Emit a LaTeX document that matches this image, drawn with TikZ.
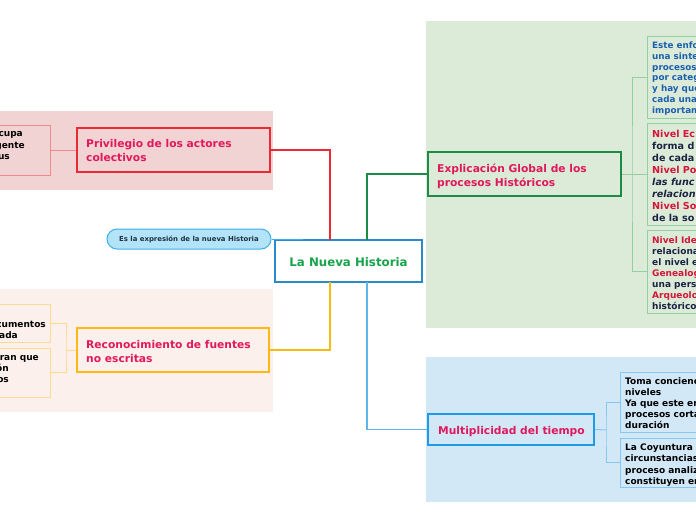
\documentclass[tikz,border=0pt]{standalone}
\usepackage{fontspec}
\setmainfont{DejaVu Sans}
\definecolor{bgpink}{HTML}{F2D3D3}
\definecolor{bgpeach}{HTML}{FCF0EC}
\definecolor{bggreen}{HTML}{DCEBD8}
\definecolor{bgblue}{HTML}{D2E8F7}
\definecolor{cred}{HTML}{EC2A33}
\definecolor{credl}{HTML}{F08A8A}
\definecolor{corange}{HTML}{FDB913}
\definecolor{corangel}{HTML}{FDDA8E}
\definecolor{cgreen}{HTML}{1D8A48}
\definecolor{cgreenl}{HTML}{93CFA4}
\definecolor{cblue}{HTML}{1F9BE6}
\definecolor{cbluel}{HTML}{86C7F0}
\definecolor{ccentral}{HTML}{2B8ACB}
\definecolor{pillfill}{HTML}{B3E3F8}
\definecolor{pillline}{HTML}{3DAEEA}
\definecolor{tpink}{HTML}{E0185C}
\definecolor{tgreen}{HTML}{17A34A}
\definecolor{tblue}{HTML}{1B5FAE}
\definecolor{tred}{HTML}{D3163A}
\definecolor{tdark}{HTML}{1A2342}
\definecolor{tpill}{HTML}{1C3340}
\newcommand{\mlines}[1]{\begin{tabular}[t]{@{}l@{}}#1\end{tabular}}
\begin{document}
\begin{tikzpicture}[x=1pt,y=-1pt,
  boxshape/.style={rectangle, inner sep=0pt},
  mainbox/.style={boxshape, line width=2pt},
  childbox/.style={boxshape, line width=1pt},
  maintxt/.style={inner sep=0pt, anchor=base west, text=tpink, font=\fontsize{10.7}{14}\selectfont\bfseries},
  smalltxt/.style={inner sep=0pt, anchor=base west, font=\fontsize{9}{11}\selectfont\bfseries},
  lefttxt/.style={inner sep=0pt, anchor=base east, text=black, font=\fontsize{9}{11}\selectfont\bfseries},
  mainline/.style={line width=1.3pt},
  childline/.style={line width=1pt}]
\useasboundingbox (0,0) rectangle (696,520);
\clip (0,0) rectangle (696,520);
% backgrounds
\fill[bgpink] (0,111) rectangle (273,190);
\fill[bgpeach] (0,289) rectangle (273,412);
\fill[bggreen] (426,21) rectangle (720,328);
\fill[bgblue] (426,357) rectangle (720,502);

% central
\node[mainbox, draw=ccentral, fill=white, minimum width=147pt, minimum height=42pt] (central) at (348.5,261) {};
\node[inner sep=0pt, anchor=base, text=tgreen, font=\fontsize{11.8}{14}\selectfont\bfseries] (centraltxt) at (348.5,266) {La Nueva Historia};
\coordinate (cTL) at (330,240);
\coordinate (cBL) at (330,282);
\coordinate (cTR) at (367,240);
\coordinate (cBR) at (367,282);

% pill
\node[boxshape, draw=pillline, fill=pillfill, line width=1pt, rounded corners=10pt, minimum width=164pt, minimum height=20pt, text=tpill, font=\fontsize{6.9}{8}\selectfont\bfseries] (pill) at (189,239) {Es la expresión de la nueva Historia};
\coordinate (pillEnd) at (303,239);
\draw[line width=1pt, pillline] (pill.east) -- (pillEnd);

% Privilegio
\node[mainbox, draw=cred, fill=bgpink, minimum width=193pt, minimum height=44pt] (priv) at (173.5,150) {};
\node[maintxt] (privtxt) at (86,147) {\mlines{Privilegio de los actores\\colectivos}};
\draw[mainline, cred] (priv.east) -| (cTL);
\node[childbox, draw=credl, fill=bgpink, minimum width=100pt, minimum height=50pt] (lc1) at (0,150) {};
\node[lefttxt] (lc1a) at (23,136) {cupa};
\node[lefttxt] (lc1b) at (25,148) {gente};
\node[lefttxt] (lc1c) at (10,159) {us};
\draw[childline, credl] (lc1.east) -- (lc1.east -| priv.west);

% Reconocimiento
\node[mainbox, draw=corange, fill=bgpeach, minimum width=192pt, minimum height=44pt] (recon) at (173,350) {};
\node[maintxt] (recontxt) at (86,348) {\mlines{Reconocimiento de fuentes\\no escritas}};
\draw[mainline, corange] (recon.east) -| (cBL);
\node[childbox, draw=corangel, fill=bgpeach, minimum width=100pt, minimum height=38pt] (lb1) at (0,323) {};
\node[childbox, draw=corangel, fill=bgpeach, minimum width=100pt, minimum height=49pt] (lb2) at (0,372.5) {};
\node[lefttxt] (lb1a) at (46,327) {cumentos};
\node[lefttxt] (lb1b) at (18,338) {ada};
\node[lefttxt] (lb2a) at (39,360) {ran que};
\node[lefttxt] (lb2b) at (9,371) {ón};
\node[lefttxt] (lb2c) at (9,382) {os};
\coordinate (lbk) at (66,350);
\draw[childline, corangel] (recon.west) -- (lbk);
\draw[childline, corangel] (lb1.east) -| (lbk) |- (lb2.east);

% Explicacion
\node[mainbox, draw=cgreen, fill=bggreen, minimum width=193pt, minimum height=44pt] (expl) at (524.5,174) {};
\node[maintxt] (expltxt) at (437,172) {\mlines{Explicación Global de los\\procesos Históricos}};
\draw[mainline, cgreen] (cTR) |- (expl.west);
\node[childbox, draw=cgreenl, fill=bggreen, minimum width=100pt, minimum height=82pt] (r1) at (697,77) {};
\node[childbox, draw=cgreenl, fill=bggreen, minimum width=100pt, minimum height=102pt] (r2) at (697,174) {};
\node[childbox, draw=cgreenl, fill=bggreen, minimum width=100pt, minimum height=83pt] (r3) at (697,271.5) {};
\coordinate (rbk) at (632,174);
\draw[childline, cgreenl] (expl.east) -- (rbk);
\draw[childline, cgreenl] (r1.west) -| (rbk) |- (r3.west);
\draw[childline, cgreenl] (rbk) -- (r2.west);
\node[smalltxt, text=tblue, font=\fontsize{8.8}{10.8}\selectfont\bfseries] (r1txt) at (652,48.5) {\mlines{Este enfo\\una sinte\\procesos\\por categ\\y hay que\\cada una\\importam}};
\node[smalltxt, text=tdark, font=\fontsize{9.6}{12.1}\selectfont\bfseries] (r2txt) at (652,137) {\mlines{\textcolor{tred}{Nivel Ec}\\forma d\\de cada\\\textcolor{tred}{Nivel Po}\\\textit{las func}\\\textit{relacion}\\\textcolor{tred}{Nivel So}\\de la so}};
\node[smalltxt, text=tdark] (r3txt) at (652,243.5) {\mlines{\textcolor{tred}{Nivel Ide}\\relaciona\\el nivel e\\\textcolor{tred}{Genealog}\\una pers\\\textcolor{tred}{Arqueolo}\\histórico}};

% Multiplicidad
\node[mainbox, draw=cblue, fill=bgblue, minimum width=166pt, minimum height=31pt] (mult) at (511,429.5) {};
\node[maintxt] (multtxt) at (438,434) {Multiplicidad del tiempo};
\draw[mainline, cbluel!60!cblue] (cBR) |- (mult.west);
\node[childbox, draw=cbluel, fill=bgblue, minimum width=100pt, minimum height=60pt] (m1) at (670,402) {};
\node[childbox, draw=cbluel, fill=bgblue, minimum width=100pt, minimum height=49pt] (m2) at (670,462.5) {};
\coordinate (mbk) at (606,430);
\draw[childline, cbluel] (mult.east) -- (mbk);
\draw[childline, cbluel] (m1.west) -| (mbk) |- (m2.west);
\node[smalltxt, text=black] (m1txt) at (625,384.5) {\mlines{Toma concienc\\niveles\\Ya que este er\\procesos corta\\duración}};
\node[smalltxt, text=black, font=\fontsize{9}{11.3}\selectfont\bfseries] (m2txt) at (625,450.5) {\mlines{La Coyuntura (\\circunstancias\\proceso analiz\\constituyen en}};
\end{tikzpicture}
\end{document}
